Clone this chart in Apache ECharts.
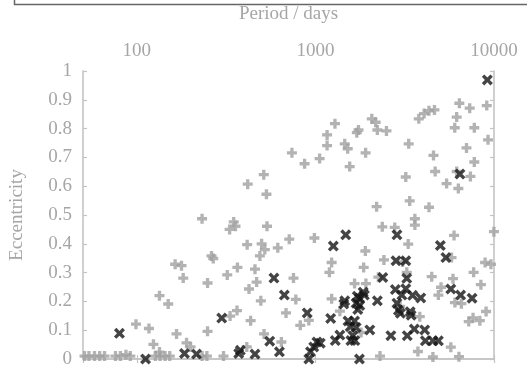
<!DOCTYPE html>
<html>
<head>
<meta charset="utf-8">
<script src="https://cdn.jsdelivr.net/npm/echarts@6/dist/echarts.min.js"></script>
<style>
  html, body { margin: 0; padding: 0; background: #fff; }
  #chart { width: 527px; height: 369px; }
</style>
</head>
<body>
<div id="chart"></div>
<script>
// Orbital period (days) and eccentricity, two samples
const periodLabels = [100, 1000, 10000];

const plusPeriod = [
  51, 54, 58, 62, 66, 76, 81, 87, 92, 127, 135, 144, 153, 232, 247, 306,
  418, 514, 532, 739, 870, 1056, 1163, 1163, 1287, 1460, 1517, 1556, 1706, 1743,
  1911, 2070, 2176, 2223, 2500, 2203, 3330, 3207, 3373, 6396, 7311, 9108, 6182, 3793,
  4061, 4325, 4642, 6029, 7758, 9260, 7013, 4583, 7758, 4683, 6182, 7377, 5428, 6315,
  4325, 232, 349, 357, 331, 415, 262, 268, 164, 178, 182, 321, 366, 249,
  134, 150, 364, 333, 99, 117, 167, 249, 124, 190, 200, 134, 536, 2369,
  2781, 714, 987, 500, 521, 616, 489, 3309, 1904, 459, 1233, 1198, 1864, 2420,
  754, 469, 425, 1657, 1918, 777, 495, 1233, 685, 1371, 919, 823, 516, 434,
  645, 413, 2300, 3606, 3606, 5975, 9990, 5783, 3075, 8917, 9616, 7691, 4481, 5893,
  8446, 3248, 5051, 4882, 6043, 6568, 2984, 3841, 9030, 7633, 7221, 8330, 5731, 3750,
  4549, 6363, 2252, 1801
];
const plusEcc = [
  0.01, 0.01, 0.01, 0.01, 0.01, 0.01, 0.01, 0.015, 0.01, 0.01, 0.01, 0.01, 0.01, 0.01, 0.01, 0.01,
  0.607, 0.640, 0.572, 0.716, 0.678, 0.696, 0.778, 0.741, 0.817, 0.747, 0.730, 0.668, 0.786, 0.795,
  0.716, 0.834, 0.822, 0.795, 0.792, 0.529, 0.747, 0.632, 0.549, 0.888, 0.871, 0.880, 0.840, 0.834,
  0.852, 0.862, 0.865, 0.803, 0.803, 0.761, 0.733, 0.707, 0.684, 0.651, 0.651, 0.634, 0.609, 0.592,
  0.527, 0.487, 0.476, 0.461, 0.450, 0.397, 0.358, 0.349, 0.329, 0.324, 0.281, 0.292, 0.318, 0.264,
  0.220, 0.191, 0.168, 0.149, 0.121, 0.106, 0.087, 0.096, 0.051, 0.056, 0.042, 0.024, 0.461, 0.459,
  0.457, 0.416, 0.420, 0.400, 0.380, 0.386, 0.358, 0.399, 0.375, 0.312, 0.335, 0.301, 0.318, 0.344,
  0.281, 0.267, 0.243, 0.262, 0.262, 0.207, 0.202, 0.209, 0.160, 0.166, 0.134, 0.117, 0.087, 0.133,
  0.059, 0.042, 0.010, 0.487, 0.465, 0.429, 0.442, 0.352, 0.337, 0.335, 0.329, 0.301, 0.286, 0.279,
  0.258, 0.301, 0.249, 0.222, 0.196, 0.192, 0.183, 0.147, 0.165, 0.143, 0.130, 0.133, 0.041, 0.026,
  0.007, 0.008, 0.284, 0.092
];

const crossPeriod = [
  9178, 6445, 80, 112, 185, 216, 299, 1479, 2862, 1260, 586, 2384, 2827, 3207,
  3248, 670, 1852, 1716, 1880, 2803, 3207, 3049, 3503, 3890, 1460, 1442, 2223, 1691,
  1765, 2862, 1728, 1772, 2917, 2992, 3394, 3437, 900, 1218, 1523, 1657, 1567, 1691,
  2017, 1371, 1292, 1622, 1663, 1581, 2647, 3268, 3579, 4092, 4128, 4549, 4882, 1765,
  555, 380, 372, 459, 629, 1020, 979, 939, 919, 1065, 5731, 6504, 7538, 5007, 5380
];
const crossEcc = [
  0.969, 0.642, 0.089, 0.0, 0.019, 0.017, 0.142, 0.431, 0.431, 0.392, 0.281, 0.283, 0.341, 0.341,
  0.280, 0.222, 0.232, 0.218, 0.222, 0.241, 0.244, 0.222, 0.221, 0.212, 0.202, 0.191, 0.202, 0.194,
  0.211, 0.194, 0.172, 0.186, 0.169, 0.159, 0.164, 0.152, 0.160, 0.141, 0.132, 0.132, 0.112, 0.109,
  0.101, 0.083, 0.064, 0.081, 0.064, 0.064, 0.081, 0.081, 0.104, 0.101, 0.063, 0.063, 0.063, 0.0,
  0.062, 0.030, 0.019, 0.017, 0.025, 0.059, 0.042, 0.025, 0.0, 0.055, 0.243, 0.222, 0.211, 0.394, 0.352
];

const pair = (xs, ys) => xs.map((x, i) => [x, ys[i]]);

const FONT = 'Liberation Serif, Times New Roman, serif';
const TEXT = '#a6a6a6';
const FRAME = '#c4c4c4';

// thick plus and thick cross marker shapes
const PLUS = 'path://M3,0H6V3H9V6H6V9H3V6H0V3H3Z';
const CROSS = 'path://M0,2.2L2.2,0L5,2.8L7.8,0L10,2.2L7.2,5L10,7.8L7.8,10L5,7.2L2.2,10L0,7.8L2.8,5Z';

const chart = echarts.init(document.getElementById('chart'), null, { renderer: 'canvas' });

const logAxisCommon = {
  type: 'log',
  logBase: 10,
  min: 50,
  max: 10000,
  splitLine: { show: false },
  minorTick: { show: false },
  axisLine: { show: true, lineStyle: { color: FRAME, width: 1.6 } },
  axisTick: { show: true, inside: true, length: 4, lineStyle: { color: FRAME, width: 1.2 } }
};

const valueAxisCommon = {
  type: 'value',
  min: 0,
  max: 1,
  interval: 0.1,
  splitLine: { show: false },
  axisLine: { show: true, lineStyle: { color: FRAME, width: 1.6 } },
  axisTick: { show: true, inside: true, length: 4, lineStyle: { color: FRAME, width: 1.2 } }
};

chart.setOption({
  animation: false,
  backgroundColor: '#fff',
  grid: { left: 74, right: 33, top: 63, bottom: 10, containLabel: false },
  graphic: [{
    type: 'rect',
    shape: { x: 14.5, y: -20, width: 530, height: 24.5 },
    style: { fill: 'none', stroke: '#666', lineWidth: 1.5 },
    silent: true
  }],
  xAxis: [
    Object.assign({}, logAxisCommon, {
      position: 'top',
      name: 'Period / days',
      nameLocation: 'middle',
      nameGap: 47,
      nameTextStyle: { fontFamily: FONT, fontSize: 19, color: TEXT },
      axisLabel: {
        show: true,
        margin: 10,
        fontFamily: FONT,
        fontSize: 19,
        color: TEXT,
        formatter: v => periodLabels.some(p => Math.abs(p - v) < 1e-6 * p) ? String(Math.round(v)) : ''
      }
    }),
    Object.assign({}, logAxisCommon, {
      position: 'bottom',
      axisLabel: { show: false }
    })
  ],
  yAxis: [
    Object.assign({}, valueAxisCommon, {
      position: 'left',
      name: 'Eccentricity',
      nameLocation: 'middle',
      nameGap: 56,
      nameTextStyle: { fontFamily: FONT, fontSize: 19, color: TEXT },
      axisLabel: { show: true, margin: 11, fontFamily: FONT, fontSize: 19, color: TEXT }
    }),
    Object.assign({}, valueAxisCommon, {
      position: 'right',
      axisLabel: { show: false }
    })
  ],
  series: [
    {
      type: 'scatter',
      xAxisIndex: 0,
      yAxisIndex: 0,
      data: pair(plusPeriod, plusEcc),
      symbol: PLUS,
      symbolSize: 10,
      itemStyle: { color: '#a0a0a0' },
      z: 2
    },
    {
      type: 'scatter',
      xAxisIndex: 0,
      yAxisIndex: 0,
      data: pair(crossPeriod, crossEcc),
      symbol: CROSS,
      symbolSize: 11,
      itemStyle: { color: '#151515' },
      z: 3
    }
  ]
});
</script>
</body>
</html>
